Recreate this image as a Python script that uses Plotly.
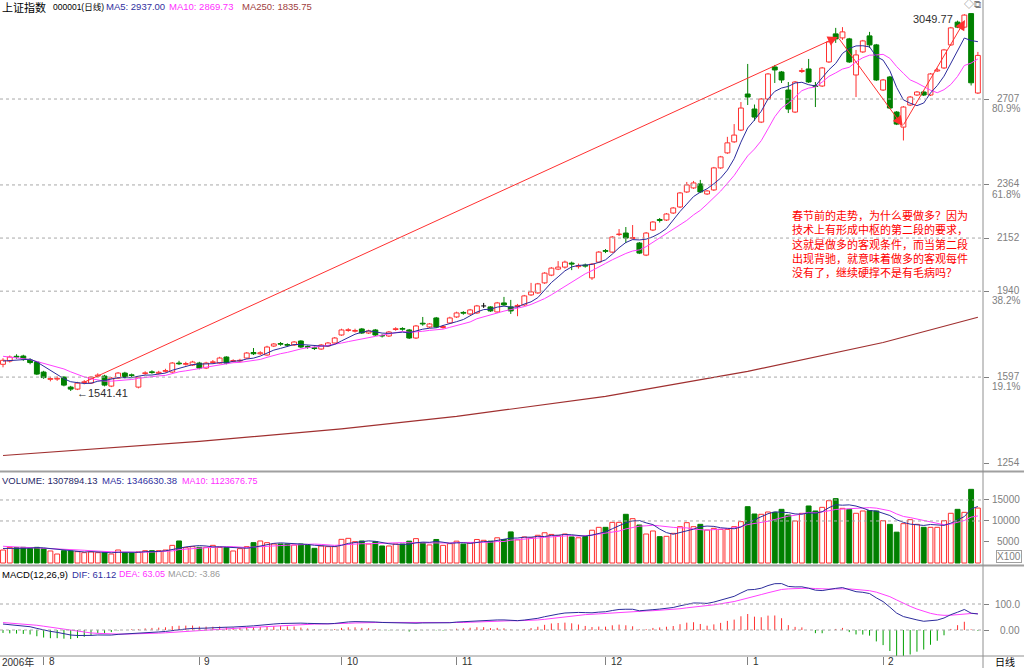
import numpy as np
import pandas as pd
import plotly.graph_objects as go

# ---------------- data ----------------
opens = [1648,1661,1680,1681,1665,1657,1617,1588,1589,1597,1557,1549,1575,1573,1601,1601,1561,1593,1613,1606,
         1557,1611,1618,1612,1620,1617,1653,1648,1645,1653,1633,1655,1653,1677,1660,1661,1673,1695,1690,1685,
         1721,1731,1727,1725,1741,1719,1714,1709,1721,1733,1765,1783,1780,1789,1773,1785,1763,1761,1787,1791,
         1785,1753,1812,1797,1833,1795,1813,1837,1855,1849,1853,1881,1877,1857,1893,1877,1879,1885,1925,1933,
         1973,2004,2028,2036,2052,2038,2044,1993,2056,2102,2096,2166,2172,2150,2132,2084,2184,2226,2224,2252,
         2276,2336,2352,2368,2328,2344,2432,2492,2536,2583,2727,2667,2615,2707,2835,2815,2743,2655,2817,2827,
         2761,2759,2855,2967,2951,2947,2803,2895,2959,2923,2743,2795,2655,2595,2683,2723,2735,2723,2819,2831,
         2923,3014,2994,3048,2731]
highs = [1672,1683,1688,1686,1672,1660,1622,1598,1600,1600,1562,1578,1585,1600,1612,1606,1597,1617,1618,1611,
         1601,1620,1624,1622,1630,1657,1662,1658,1662,1658,1658,1665,1678,1680,1668,1670,1697,1713,1700,1722,
         1733,1737,1732,1741,1744,1723,1719,1729,1737,1757,1790,1792,1790,1793,1786,1789,1768,1781,1796,1796,
         1789,1805,1837,1813,1837,1805,1838,1858,1860,1869,1885,1893,1880,1897,1917,1905,1889,1925,1973,1973,
         2016,2036,2060,2062,2058,2050,2050,2052,2100,2108,2160,2188,2196,2204,2136,2176,2220,2232,2252,2276,
         2336,2376,2380,2384,2344,2436,2480,2556,2607,2695,2847,2685,2711,2811,2843,2819,2775,2779,2831,2867,
         2775,2835,2939,2991,2994,2951,2903,2943,2975,2927,2787,2799,2659,2679,2719,2739,2741,2811,2831,2907,
         2995,3020,3046,3049.77,2895]
lows = [1636,1655,1670,1662,1648,1605,1590,1580,1582,1560,1541.41,1545,1568,1570,1596,1560,1557,1590,1592,1597,
        1552,1606,1610,1608,1615,1614,1645,1643,1641,1628,1629,1650,1650,1648,1655,1656,1670,1685,1685,1682,
        1717,1722,1718,1721,1713,1710,1705,1706,1718,1730,1762,1778,1775,1769,1769,1761,1755,1757,1782,1782,
        1749,1749,1802,1793,1793,1790,1809,1833,1846,1845,1849,1873,1857,1853,1881,1849,1840,1881,1921,1929,
        1969,2000,2024,2030,2024,2030,2034,1985,2052,2092,2092,2160,2132,2146,2088,2080,2180,2214,2220,2248,
        2272,2332,2348,2332,2324,2340,2428,2488,2532,2579,2683,2620,2611,2703,2771,2771,2651,2651,2811,2771,
        2675,2755,2851,2931,2943,2851,2715,2891,2911,2779,2739,2667,2603,2541.5,2679,2719,2719,2719,2815,2827,
        2919,2990,2990,2761,2727]
closes = [1664,1677,1677,1669,1655,1609,1595,1591,1592,1565,1549,1573,1578,1597,1605,1565,1593,1613,1597,1603,
          1597,1614,1615,1616,1623,1653,1650,1651,1657,1633,1653,1658,1673,1653,1663,1664,1693,1690,1694,1717,
          1729,1728,1724,1737,1717,1716,1711,1725,1733,1753,1785,1786,1783,1773,1781,1765,1761,1777,1790,1788,
          1753,1801,1809,1809,1797,1799,1833,1853,1852,1865,1881,1881,1861,1893,1885,1861,1883,1921,1937,1969,
          2012,2032,2036,2056,2048,2042,2040,2048,2096,2099,2156,2168,2152,2154,2092,2172,2216,2222,2248,2272,
          2332,2364,2372,2336,2340,2432,2476,2532,2563,2671,2715,2635,2707,2807,2823,2783,2667,2775,2821,2775,
          2757,2831,2935,2947,2975,2855,2883,2939,2923,2783,2783,2671,2607,2675,2715,2735,2723,2807,2823,2903,
          2991,2994,3042,2771.79,2881.07]
volumes = [3094,3730,3650,3730,3490,3730,3410,2860,2140,2930,2860,2700,2460,2620,2460,2460,2140,3094,2460,2380,
           2620,2930,2930,2930,3094,4200,5240,3650,3890,3730,3730,4200,3730,3650,2860,3410,3890,4840,5240,4840,
           4520,4520,4520,4280,4520,4280,3490,4050,3890,3890,5630,5870,5080,5240,4520,5080,4050,4050,4520,4500,
           5200,5800,4800,4300,5600,4200,4600,5200,4500,4800,5600,5400,5200,6000,5600,7400,5500,6200,6000,6600,
           7200,6800,6500,6900,6200,6000,6300,7800,8490,8490,9680,9680,11590,10550,9040,6900,7620,6270,6350,7060,
           8650,9600,8650,9200,7850,8250,8000,8000,8650,9840,13400,11660,11590,12140,12060,12770,11420,10000,11820,13570,
           12380,13250,14830,15320,13010,12770,11830,12380,12460,12380,10080,9200,7340,9360,10310,9200,8490,8490,8490,10080,
           11830,12770,12060,17530,13079]
pre_closes = [1710, 1705, 1700, 1693, 1687, 1668, 1662, 1655, 1656]
pre_volumes = [4400, 4600, 4300, 4500, 4700, 3900, 3600, 3400, 3300]
ma250_idx = [0, 29, 50, 67, 89, 110, 130, 144]
ma250_val = [1284, 1340, 1390, 1440, 1520, 1620, 1735, 1835.75]
macd_seed_ema12 = 1690.0
macd_seed_ema26 = 1663.0
macd_seed_dea = 30.0
month_idx = [6, 29, 50, 67, 89, 110, 130]
month_labels = ["8", "9", "10", "11", "12", "1", "2"]
price_levels = [2707, 2364, 2152, 1940, 1597, 1254]
price_pct = ["80.9%", "61.8%", "", "38.2%", "19.1%", ""]
grid_levels = [2707, 2364, 2152, 1940, 1597]
vol_levels = [15000, 10000, 5000]
vol_grid = [15000, 10000]
macd_levels = [100, 0]
macd_level_text = ["100.0", "0.00"]
trend_idx = [11.7, 123.3, 132.9, 142.1]
trend_val = [1573, 2955, 2599, 3022]
low_idx, low_val = 10, 1541.41
high_idx, high_val = 143, 3049.77
note_lines = ["春节前的走势，为什么要做多？因为",
              "技术上有形成中枢的第二段的要求，",
              "这就是做多的客观条件，而当第二段",
              "出现背驰，就意味着做多的客观每件",
              "没有了，继续硬撑不是有毛病吗？"]

# ---------------- styling ----------------
RED = "#ff3030"
GREEN = "#008000"
NAVY = "#2c2c9c"
MAGENTA = "#ff40ff"
BROWN = "#a03030"
GRAY = "#808080"
FONT = "Liberation Sans, Arial, Noto Sans CJK SC"
CJK = "Noto Sans CJK SC"

W, Hh = 1024, 668
PLOT_W, PLOT_H = 983, 656
px_per = 6.77
r0 = -3 / px_per
r1 = r0 + PLOT_W / px_per


def py(p):
    return (PLOT_H - p) / PLOT_H


def pxx(p):
    return p / PLOT_W


O = np.array(opens, float)
Hi = np.array(highs, float)
Lo = np.array(lows, float)
C = np.array(closes, float)
V = np.array(volumes, float)
n = len(C)
x = np.arange(n)

up = C > O
dn = C < O
fl = C == O
btop = np.maximum(O, C)
bbot = np.minimum(O, C)

call = pd.Series(list(pre_closes) + list(closes), dtype=float)
ma5 = call.rolling(5).mean().values[len(pre_closes):]
ma10 = call.rolling(10).mean().values[len(pre_closes):]
vall = pd.Series(list(pre_volumes) + list(volumes), dtype=float)
vma5 = vall.rolling(5).mean().values[len(pre_volumes):]
vma10 = vall.rolling(10).mean().values[len(pre_volumes):]

e12, e26, dea = macd_seed_ema12, macd_seed_ema26, macd_seed_dea
difs, deas = [], []
for c in C:
    e12 += (c - e12) * 2 / 13
    e26 += (c - e26) * 2 / 27
    d = e12 - e26
    dea += (d - dea) * 2 / 10
    difs.append(d)
    deas.append(dea)
difs = np.array(difs)
deas = np.array(deas)
hist = 2 * (difs - deas)

fig = go.Figure()


def wick(mask):
    xs, ys = [], []
    for i in np.where(mask)[0]:
        xs += [i, i, None, i, i, None]
        ys += [Lo[i], bbot[i], None, btop[i], Hi[i], None]
    return xs, ys


for mask, col in ((up, RED), (dn, GREEN)):
    xs, ys = wick(mask)
    fig.add_trace(go.Scatter(x=xs, y=ys, mode="lines", line=dict(color=col, width=1),
                             xaxis="x", yaxis="y", hoverinfo="skip"))
# doji
xs, ys = [], []
for i in np.where(fl)[0]:
    xs += [i, i, None, i - 0.36, i + 0.36, None]
    ys += [Lo[i], Hi[i], None, O[i], O[i], None]
fig.add_trace(go.Scatter(x=xs, y=ys, mode="lines", line=dict(color="#000000", width=1),
                         xaxis="x", yaxis="y", hoverinfo="skip"))

fig.add_trace(go.Bar(x=x[up], y=(C - O)[up], base=O[up], width=0.72,
                     marker=dict(color="white", line=dict(color=RED, width=1)), xaxis="x", yaxis="y"))
fig.add_trace(go.Bar(x=x[dn], y=(O - C)[dn], base=C[dn], width=0.72,
                     marker=dict(color=GREEN, line=dict(color=GREEN, width=1)), xaxis="x", yaxis="y"))

fig.add_trace(go.Scatter(x=ma250_idx, y=ma250_val, mode="lines", line=dict(color=BROWN, width=1.2),
                         xaxis="x", yaxis="y"))
fig.add_trace(go.Scatter(x=x, y=ma10, mode="lines", line=dict(color=MAGENTA, width=1), xaxis="x", yaxis="y"))
fig.add_trace(go.Scatter(x=x, y=ma5, mode="lines", line=dict(color=NAVY, width=1), xaxis="x", yaxis="y"))

# volume
vup = C >= O
fig.add_trace(go.Bar(x=x[vup], y=V[vup], width=0.72,
                     marker=dict(color="white", line=dict(color=RED, width=1)), xaxis="x2", yaxis="y2"))
fig.add_trace(go.Bar(x=x[~vup], y=V[~vup], width=0.72,
                     marker=dict(color=GREEN, line=dict(color=GREEN, width=1)), xaxis="x2", yaxis="y2"))
fig.add_trace(go.Scatter(x=x, y=vma10, mode="lines", line=dict(color=MAGENTA, width=1), xaxis="x2", yaxis="y2"))
fig.add_trace(go.Scatter(x=x, y=vma5, mode="lines", line=dict(color=NAVY, width=1), xaxis="x2", yaxis="y2"))

# MACD histogram
for sign, col in ((1, RED), (-1, "#00a000")):
    xs, ys = [], []
    for i in range(n):
        if hist[i] * sign > 0:
            xs += [i, i, None]
            ys += [0, hist[i], None]
    fig.add_trace(go.Scatter(x=xs, y=ys, mode="lines", line=dict(color=col, width=1),
                             xaxis="x3", yaxis="y3", hoverinfo="skip"))
fig.add_trace(go.Scatter(x=x, y=deas, mode="lines", line=dict(color=MAGENTA, width=1), xaxis="x3", yaxis="y3"))
fig.add_trace(go.Scatter(x=x, y=difs, mode="lines", line=dict(color=NAVY, width=1), xaxis="x3", yaxis="y3"))

# ---------------- layout ----------------
main_dom = [py(471), 1]
vol_dom = [py(566), py(471)]
macd_dom = [0, py(566)]
main_rng = [1254 - 8 * 3.992, 1254 + 463 * 3.992]
vol_rng = [(563 - 566) * 238, (563 - 471) * 238]
macd_rng = [-(656 - 630) / 0.26, (630 - 566) / 0.26]

ax_common = dict(range=[r0, r1], showgrid=False, zeroline=False, showticklabels=False, showline=False,
                 fixedrange=True)
yax_common = dict(side="right", showgrid=False, zeroline=False, showticklabels=False, ticks="outside",
                  ticklen=5, tickcolor=GRAY, showline=False, tickmode="array")

fig.update_layout(
    width=W, height=Hh, margin=dict(l=0, r=W - PLOT_W, t=0, b=Hh - PLOT_H),
    paper_bgcolor="white", plot_bgcolor="white", showlegend=False, barmode="overlay",
    font=dict(family=FONT, size=10, color="#000000"),
    xaxis=dict(domain=[0, 1], anchor="y", ticks="", **ax_common),
    xaxis2=dict(domain=[0, 1], anchor="y2", matches="x", ticks="", **ax_common),
    xaxis3=dict(domain=[0, 1], anchor="y3", matches="x", ticks="outside", ticklen=8, tickcolor=GRAY,
                tickmode="array", tickvals=month_idx, **ax_common),
    yaxis=dict(domain=main_dom, range=main_rng, tickvals=price_levels, **yax_common),
    yaxis2=dict(domain=vol_dom, range=vol_rng, tickvals=vol_levels, **yax_common),
    yaxis3=dict(domain=macd_dom, range=macd_rng, tickvals=macd_levels, **yax_common),
)

shapes = []
dot = dict(color="#a8a8a8", width=1, dash="dot")
for lv in grid_levels:
    shapes.append(dict(type="line", xref="paper", yref="y", x0=0, x1=1, y0=lv, y1=lv, line=dot))
for lv in vol_grid:
    shapes.append(dict(type="line", xref="paper", yref="y2", x0=0, x1=1, y0=lv, y1=lv, line=dot))
for lv in macd_levels:
    shapes.append(dict(type="line", xref="paper", yref="y3", x0=0, x1=1, y0=lv, y1=lv, line=dot))
border = dict(color="#909090", width=1)
shapes.append(dict(type="line", xref="paper", yref="paper", x0=0, x1=W / PLOT_W, y0=py(471.5), y1=py(471.5),
                   line=dict(color="#a0a0a0", width=2)))
shapes.append(dict(type="line", xref="paper", yref="paper", x0=0, x1=W / PLOT_W, y0=py(565.5), y1=py(565.5),
                   line=dict(color="#a0a0a0", width=2)))
shapes.append(dict(type="line", xref="paper", yref="paper", x0=0, x1=W / PLOT_W, y0=py(656), y1=py(656),
                   line=border))
shapes.append(dict(type="line", xref="paper", yref="paper", x0=1, x1=1, y0=py(668), y1=1, line=border))
fig.update_layout(shapes=shapes)

ann = []


def txt(text, xp, ypix, color="#000000", size=9.5, anchor="left", family=FONT, **kw):
    ann.append(dict(text=text, xref="paper", yref="paper", x=pxx(xp), y=py(ypix), xanchor=anchor,
                    yanchor="middle", showarrow=False, font=dict(family=family, size=size, color=color), **kw))


# headers
txt("上证指数", 0, 7, size=11, family=CJK)
txt("000001(日线)", 51, 7, size=8.5)
txt("MA5: 2937.00", 104, 7, color="#3030a0")
txt("MA10: 2869.73", 167, 7, color="#ff30ff")
txt("MA250: 1835.75", 240, 7, color="#a04040")
txt("VOLUME: 1307894.13", 0, 481, color="#282868")
txt("MA5: 1346630.38", 100, 481, color="#3030a0")
txt("MA10: 1123676.75", 180, 481, color="#ff30ff", size=9)
txt("MACD(12,26,9)", 0, 574)
txt("DIF: 61.12", 70, 574, color="#3030a0")
txt("DEA: 63.05", 117, 574, color="#ff30ff", size=9)
txt("MACD: -3.86", 166, 574, color="#999999", size=9)

# right axis labels
for lv, pct in zip(price_levels, price_pct):
    ann.append(dict(text=str(lv), xref="paper", yref="y", x=pxx(1022), y=lv, xanchor="right", yanchor="middle",
                    yshift=1, showarrow=False, font=dict(family=FONT, size=10, color=GRAY)))
    if pct:
        ann.append(dict(text=pct, xref="paper", yref="y", x=pxx(1022), y=lv, xanchor="right", yanchor="middle",
                        yshift=-9.5, showarrow=False, font=dict(family=FONT, size=10, color=GRAY)))
for lv in vol_levels:
    ann.append(dict(text=str(lv), xref="paper", yref="y2", x=pxx(1022), y=lv, xanchor="right", yanchor="middle",
                    showarrow=False, font=dict(family=FONT, size=10, color=GRAY)))
txt("X100", 1022, 556, color=GRAY, size=10, anchor="right", bordercolor="#a0a0a0", borderwidth=1, borderpad=0)
for lv, t in zip(macd_levels, macd_level_text):
    ann.append(dict(text=t, xref="paper", yref="y3", x=pxx(1022), y=lv, xanchor="right", yanchor="middle",
                    showarrow=False, font=dict(family=FONT, size=10, color=GRAY)))

# date labels
txt("2006年", 0, 662, size=10, color="#303030")
for mi, lab in zip(month_idx, month_labels):
    ann.append(dict(text=lab, xref="x3", yref="paper", x=mi, y=py(662), xanchor="left", yanchor="middle",
                    xshift=3, showarrow=False, font=dict(family=FONT, size=10, color="#303030")))
txt("日线", 993, 662, size=10, family=CJK)
txt("◇⧉", 962, 5, color=GRAY, size=10)

# extremes
ann.append(dict(text="←1541.41", xref="x", yref="y", x=low_idx, y=low_val, xanchor="left", yanchor="middle",
                xshift=4, yshift=-2, showarrow=False, font=dict(family=FONT, size=11, color="#303030")))
ann.append(dict(text="3049.77", xref="x", yref="y", x=high_idx, y=high_val, xanchor="right", yanchor="middle",
                xshift=-16, yshift=-6, showarrow=False, font=dict(family=FONT, size=11, color="#303030")))

# trend arrows
for k in range(1, len(trend_idx)):
    ann.append(dict(text="", x=trend_idx[k], y=trend_val[k], ax=trend_idx[k - 1], ay=trend_val[k - 1],
                    xref="x", yref="y", axref="x", ayref="y", showarrow=True, arrowhead=2, arrowsize=2,
                    arrowwidth=1, arrowcolor=RED, standoff=0))

# note (one multi-line text block)
ann.append(dict(text="<br>".join(note_lines), xref="paper", yref="paper", x=pxx(790), y=py(205),
                xanchor="left", yanchor="top", align="left", showarrow=False,
                font=dict(family=CJK, size=11, color="#ff0000")))

fig.update_layout(annotations=ann)
fig.write_html("out.html")
